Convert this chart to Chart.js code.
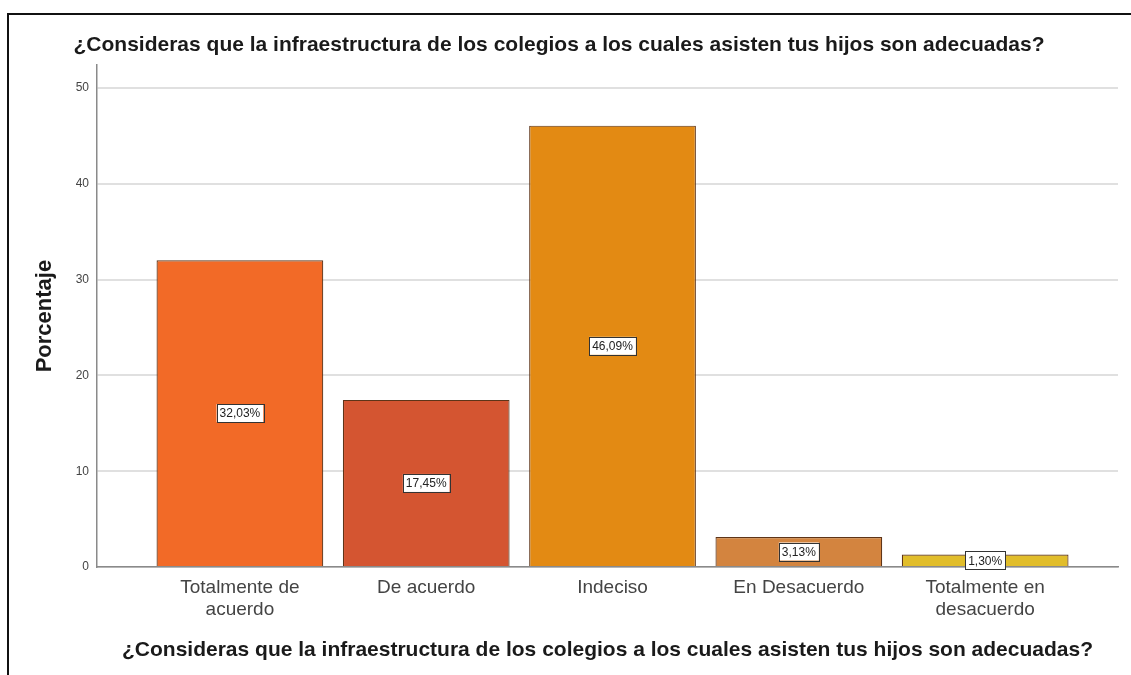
<!DOCTYPE html>
<html>
<head>
<meta charset="utf-8">
<script src="https://cdn.jsdelivr.net/npm/chart.js@4/dist/chart.umd.min.js"></script>
<style>
  html, body { margin: 0; padding: 0; background: #fff; }
  #wrap { width: 1131px; height: 675px; position: relative; }
</style>
</head>
<body>
<div id="wrap"><canvas id="barChart"></canvas></div>
<script>
const categories = [
    ['Totalmente de', 'acuerdo'],
    'De acuerdo',
    'Indeciso',
    'En Desacuerdo',
    ['Totalmente en', 'desacuerdo']
];
const percentages = [32.03, 17.45, 46.09, 3.13, 1.30];
const yTicks = [0, 10, 20, 30, 40, 50];
const barColors = ['#F26A27', '#D45531', '#E38A13', '#D3843F', '#E1BD2B'];
const titleText = '¿Consideras que la infraestructura de los colegios a los cuales asisten tus hijos son adecuadas?';

const FONT = "'Liberation Sans', Arial, sans-serif";

// marco negro (arriba e izquierda)
const framePlugin = {
    id: 'frame',
    beforeDraw(chart) {
        const c = chart.ctx;
        c.save();
        c.strokeStyle = '#111';
        c.lineWidth = 2;
        c.beginPath();
        c.moveTo(8, 675);
        c.lineTo(8, 14);
        c.lineTo(1131, 14);
        c.stroke();
        c.restore();
    }
};

// etiquetas de valor en cajas blancas
const boxLabels = {
    id: 'boxLabels',
    afterDatasetsDraw(chart) {
        const c = chart.ctx;
        const meta = chart.getDatasetMeta(0);
        c.save();
        c.font = '12px ' + FONT;
        c.textAlign = 'center';
        c.textBaseline = 'middle';
        meta.data.forEach((bar, i) => {
            const txt = percentages[i].toFixed(2).replace('.', ',') + '%';
            const w = c.measureText(txt).width + 6;
            const h = 18;
            const yMid = (bar.y + bar.base) / 2;
            c.fillStyle = '#fff';
            c.fillRect(bar.x - w / 2, yMid - h / 2, w, h);
            c.strokeStyle = '#333';
            c.lineWidth = 1;
            c.strokeRect(Math.round(bar.x - w / 2) + 0.5, Math.round(yMid - h / 2) + 0.5, Math.round(w), h);
            c.fillStyle = '#222';
            c.fillText(txt, bar.x, yMid + 1);
        });
        c.restore();
    }
};

const ctx = document.getElementById('barChart').getContext('2d');
new Chart(ctx, {
    type: 'bar',
    data: {
        datasets: [{
            data: percentages.map((v, i) => ({ x: i, y: v })),
            backgroundColor: barColors,
            borderColor: '#5e3418',
            borderWidth: 1.2,
            categoryPercentage: 1,
            barPercentage: 0.895
        }]
    },
    options: {
        responsive: true,
        maintainAspectRatio: false,
        animation: false,
        layout: { padding: { left: 0, right: 13, top: 0, bottom: 0 } },
        plugins: {
            legend: { display: false },
            tooltip: { enabled: false },
            title: {
                display: true,
                text: titleText,
                color: '#1a1a1a',
                font: { family: FONT, size: 21, weight: 'bold' },
                padding: { top: 33, bottom: 7 }
            }
        },
        scales: {
            x: {
                type: 'linear',
                offset: false,
                min: -0.767,
                max: 4.713,
                afterBuildTicks: axis => { axis.ticks = categories.map((c, i) => ({ value: i })); },
                afterFit: scale => { scale.height = 108; },
                grid: { display: false, drawTicks: false },
                border: { display: true, color: '#8a8a8a', width: 1.5 },
                ticks: {
                    color: '#444',
                    padding: 9,
                    maxRotation: 0,
                    autoSkip: false,
                    font: { family: FONT, size: 19, lineHeight: 1.2 },
                    callback: v => categories[v]
                },
                title: {
                    display: true,
                    text: titleText,
                    color: '#1a1a1a',
                    font: { family: FONT, size: 21, weight: 'bold' },
                    padding: { top: 0, bottom: 12 }
                }
            },
            y: {
                min: 0,
                max: 52.4,
                afterBuildTicks: axis => { axis.ticks = yTicks.map(v => ({ value: v })); },
                afterFit: scale => { scale.width = 97; },
                grid: { color: '#e0e0e0', lineWidth: 2, drawTicks: false },
                border: { display: true, color: '#8a8a8a', width: 1.5 },
                ticks: {
                    color: '#444',
                    padding: 8,
                    font: { family: FONT, size: 12 }
                },
                title: {
                    display: true,
                    text: 'Porcentaje',
                    color: '#1a1a1a',
                    font: { family: FONT, size: 22, weight: 'bold' },
                    padding: { top: 32, bottom: 0 }
                }
            }
        }
    },
    plugins: [framePlugin, boxLabels]
});
</script>
</body>
</html>
